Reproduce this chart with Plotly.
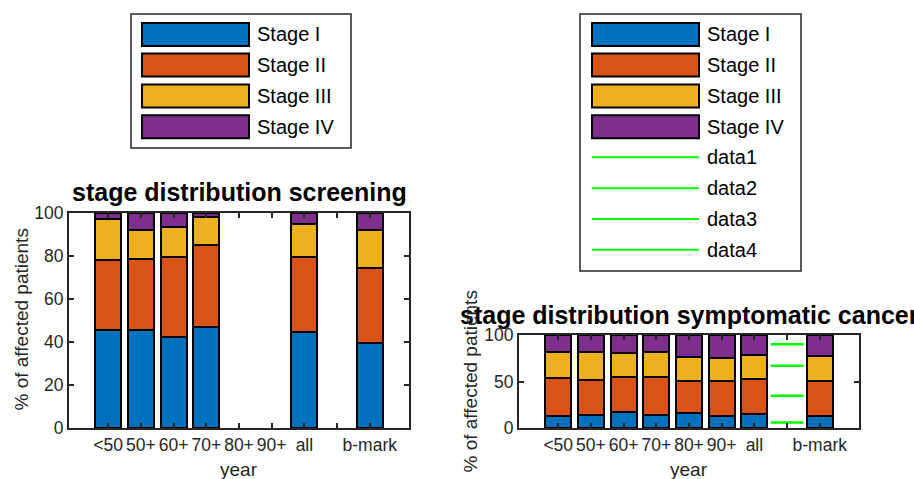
import plotly.graph_objects as go

# ---------------- data ----------------
positions = [1, 2, 3, 4, 5, 6, 7, 8, 9]
tick_labels = ["<50", "50+", "60+", "70+", "80+", "90+", "all", "", "b-mark"]
stage_names = ["Stage I", "Stage II", "Stage III", "Stage IV"]

screen_I = [45.6, 45.6, 42.5, 46.8, None, None, 44.5, None, 39.4]
screen_II = [32.4, 32.9, 37.1, 38.4, None, None, 35.1, None, 35.1]
screen_III = [18.9, 13.5, 13.9, 12.9, None, None, 15.1, None, 17.5]
screen_IV = [3.1, 8.0, 6.5, 1.9, None, None, 5.3, None, 8.0]

sympt_I = [12.5, 13.9, 17.5, 13.9, 16.1, 12.5, 15.0, None, 13.2]
sympt_II = [41.1, 37.9, 37.1, 40.7, 34.3, 37.9, 38.2, None, 37.2]
sympt_III = [27.8, 29.6, 25.8, 26.8, 26.4, 25.0, 25.7, None, 27.1]
sympt_IV = [18.6, 18.6, 19.6, 18.6, 23.2, 24.6, 21.1, None, 22.5]

green_names = ["data1", "data2", "data3", "data4"]
green_levels = [90.0, 67.0, 34.6, 6.0]
green_span = [7.5, 8.5]

# ---------------- style ----------------
W, H = 914, 479
colors = ["#0072BD", "#D95319", "#EDB120", "#7E2F8E"]
green = "#00FF00"
axcol = "#262626"
FONT = "Liberation Sans, Arial, sans-serif"


def px(x):
    return x / W


def py(y):
    return 1 - y / H


fig = go.Figure()

screen = [screen_I, screen_II, screen_III, screen_IV]
sympt = [sympt_I, sympt_II, sympt_III, sympt_IV]

for name, vals, c in zip(stage_names, screen, colors):
    fig.add_trace(go.Bar(x=positions, y=vals, name=name, width=0.8,
                         marker=dict(color=c, line=dict(color="black", width=2)),
                         xaxis="x", yaxis="y", showlegend=False))
for name, vals, c in zip(stage_names, sympt, colors):
    fig.add_trace(go.Bar(x=positions, y=vals, name=name, width=0.8,
                         marker=dict(color=c, line=dict(color="black", width=2)),
                         xaxis="x2", yaxis="y2", showlegend=False))
for name, lev in zip(green_names, green_levels):
    fig.add_trace(go.Scatter(x=green_span, y=[lev, lev], mode="lines", name=name,
                             line=dict(color=green, width=2.5),
                             xaxis="x2", yaxis="y2", showlegend=False))

axis_common = dict(showline=True, linecolor=axcol, linewidth=2, mirror="ticks",
                   ticks="inside", ticklen=5, tickwidth=1.5, tickcolor=axcol,
                   showgrid=False, zeroline=False, automargin=False,
                   tickfont=dict(family=FONT, size=17.5, color=axcol))

fig.update_layout(
    template="none",
    width=W, height=H, autosize=False,
    margin=dict(l=0, r=0, t=0, b=0, pad=0, autoexpand=False),
    paper_bgcolor="white", plot_bgcolor="white",
    barmode="stack", bargap=0.2,
    showlegend=False,
    xaxis=dict(domain=[px(69), px(409)], range=[-0.2, 10.2], anchor="y",
               tickvals=positions, ticktext=tick_labels, **axis_common),
    yaxis=dict(domain=[py(428), py(212.7)], range=[0, 100], anchor="x",
               tickvals=[0, 20, 40, 60, 80, 100], **axis_common),
    xaxis2=dict(domain=[px(519), px(859)], range=[-0.2, 10.2], anchor="y2",
                tickvals=positions, ticktext=tick_labels, **axis_common),
    yaxis2=dict(domain=[py(428), py(335)], range=[0, 100], anchor="x2",
                tickvals=[0, 50, 100], **axis_common),
)

ann = []
shapes = []

# titles
ann.append(dict(x=px(239.5), y=py(192), xref="paper", yref="paper", showarrow=False,
                text="<b>stage distribution screening</b>", xanchor="center", yanchor="middle",
                font=dict(family=FONT, size=25, color="black")))
ann.append(dict(x=px(689), y=py(315), xref="paper", yref="paper", showarrow=False,
                text="<b>stage distribution symptomatic cancer</b>", xanchor="center", yanchor="middle",
                font=dict(family=FONT, size=25, color="black")))
# axis titles
for xc, yc in [(20.5, 320), (470, 381.5)]:
    ann.append(dict(x=px(xc), y=py(yc), xref="paper", yref="paper", showarrow=False,
                    text="% of affected patients", textangle=-90,
                    xanchor="center", yanchor="middle",
                    font=dict(family=FONT, size=19, color=axcol)))
for xc in [239, 689]:
    ann.append(dict(x=px(xc), y=py(469), xref="paper", yref="paper", showarrow=False,
                    text="year", xanchor="center", yanchor="middle",
                    font=dict(family=FONT, size=19, color=axcol)))


# legends (drawn manually to match the wide swatches)
def legend(box, sw_x0, sw_x1, text_x, rows_patch, rows_line):
    x0, y0, x1, y1 = box
    shapes.append(dict(type="rect", xref="paper", yref="paper",
                       x0=px(x0), x1=px(x1), y0=py(y1), y1=py(y0),
                       line=dict(color=axcol, width=1.5), fillcolor="white", layer="above"))
    for (yc, name, c) in rows_patch:
        shapes.append(dict(type="rect", xref="paper", yref="paper",
                           x0=px(sw_x0), x1=px(sw_x1), y0=py(yc + 11.5), y1=py(yc - 11.5),
                           line=dict(color="black", width=2), fillcolor=c, layer="above"))
        ann.append(dict(x=px(text_x), y=py(yc), xref="paper", yref="paper", showarrow=False,
                        text=name, xanchor="left", yanchor="middle",
                        font=dict(family=FONT, size=20, color="black")))
    for (yc, name) in rows_line:
        shapes.append(dict(type="line", xref="paper", yref="paper",
                           x0=px(sw_x0), x1=px(sw_x1), y0=py(yc), y1=py(yc),
                           line=dict(color=green, width=2), layer="above"))
        ann.append(dict(x=px(text_x), y=py(yc), xref="paper", yref="paper", showarrow=False,
                        text=name, xanchor="left", yanchor="middle",
                        font=dict(family=FONT, size=20, color="black")))


row_y = [34.5, 65.0, 96.0, 126.7]
legend((131, 14, 351, 148), 142, 249, 255,
       list(zip(row_y, stage_names, colors)), [])
legend((580, 14, 801, 271), 592, 699, 705,
       list(zip(row_y, stage_names, colors)),
       list(zip([157.3, 188.3, 219.0, 249.7], green_names)))

fig.update_layout(annotations=ann, shapes=shapes)
fig.write_html("out.html",
               config={"displayModeBar": False},
               post_script="document.body.style.margin='0';document.body.style.overflow='hidden';")
